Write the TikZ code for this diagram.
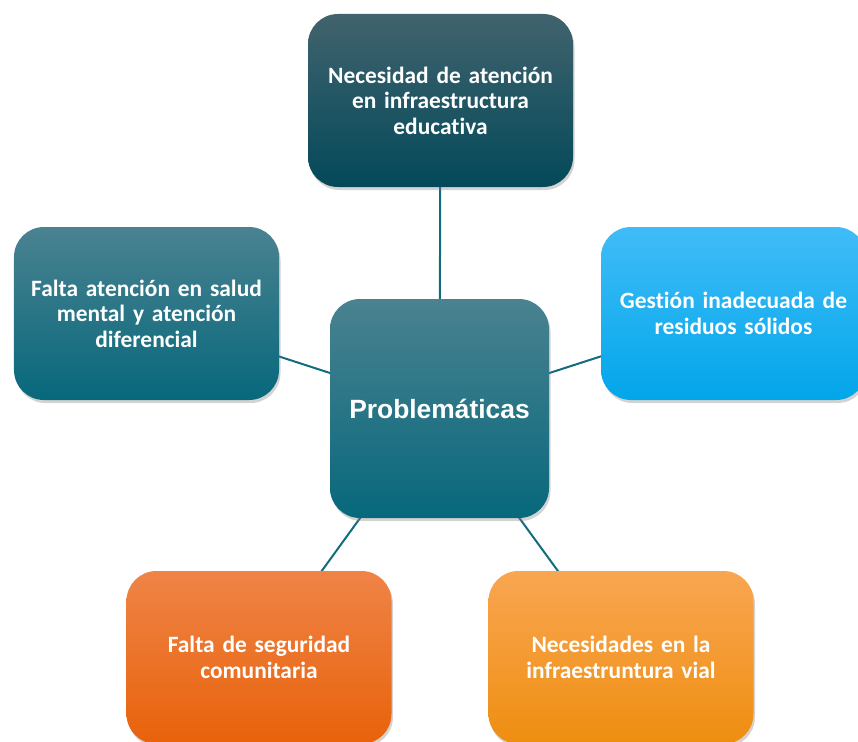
\documentclass[tikz,border=0pt]{standalone}
\usepackage{fontspec}
\setmainfont{Carlito}[Ligatures=NoCommon, WordSpace=0.85]
\newfontfamily\arialfont{Liberation Sans}
\usetikzlibrary{shadows,backgrounds}
\definecolor{linec}{HTML}{126C80}
\definecolor{topA}{HTML}{41636D}
\definecolor{topB}{HTML}{03495A}
\definecolor{tealA}{HTML}{4A8290}
\definecolor{tealB}{HTML}{07687C}
\definecolor{blueA}{HTML}{40BCF8}
\definecolor{blueB}{HTML}{02A6EA}
\definecolor{orA}{HTML}{EF8447}
\definecolor{orB}{HTML}{E8620A}
\definecolor{ylA}{HTML}{F9A652}
\definecolor{ylB}{HTML}{EE8E10}
\tikzset{
  box/.style={rectangle, rounded corners=30bp, minimum width=265bp, minimum height=173bp,
    text width=255bp, align=center, text=white, font=\fontsize{23.5}{25.5}\selectfont\bfseries,
    drop shadow={opacity=0.35, shadow xshift=1.5bp, shadow yshift=-3bp}},
  grad/.style n args={2}{top color=#1, middle color=#2!85!#1, bottom color=#2},
  conn/.style={draw=linec, line width=2bp}
}
\begin{document}
\begin{tikzpicture}[x=1bp,y=-1bp]
\useasboundingbox (0,0) rectangle (858,742);
\node[box, grad={topA}{topB}] (t) at (440.5,100.5) {Necesidad de atención\\en infraestructura\\educativa};
\node[box, grad={tealA}{tealB}] (l) at (146.5,313.5) {Falta atención en salud\\mental y atención\\diferencial};
\node[box, grad={blueA}{blueB}] (r) at (733.5,313.5) {Gestión inadecuada de\\residuos sólidos};
\node[box, grad={orA}{orB}] (bl) at (259,657.5) {Falta de seguridad\\comunitaria};
\node[box, grad={ylA}{ylB}] (br) at (621,657.5) {Necesidades en la\\infraestruntura vial};
\node[box, minimum width=219bp, minimum height=219bp, text width=210bp, grad={tealA}{tealB},
  font=\arialfont\bfseries\fontsize{26.5}{30}\selectfont] (c) at (439.5,408.5) {Problemáticas};
\begin{scope}[on background layer]
\draw[conn] (c.center) -- (t.center);
\draw[conn] (c.center) -- (l.center);
\draw[conn] (c.center) -- (r.center);
\draw[conn] (c.center) -- (bl.center);
\draw[conn] (c.center) -- (br.center);
\end{scope}
\end{tikzpicture}
\end{document}
